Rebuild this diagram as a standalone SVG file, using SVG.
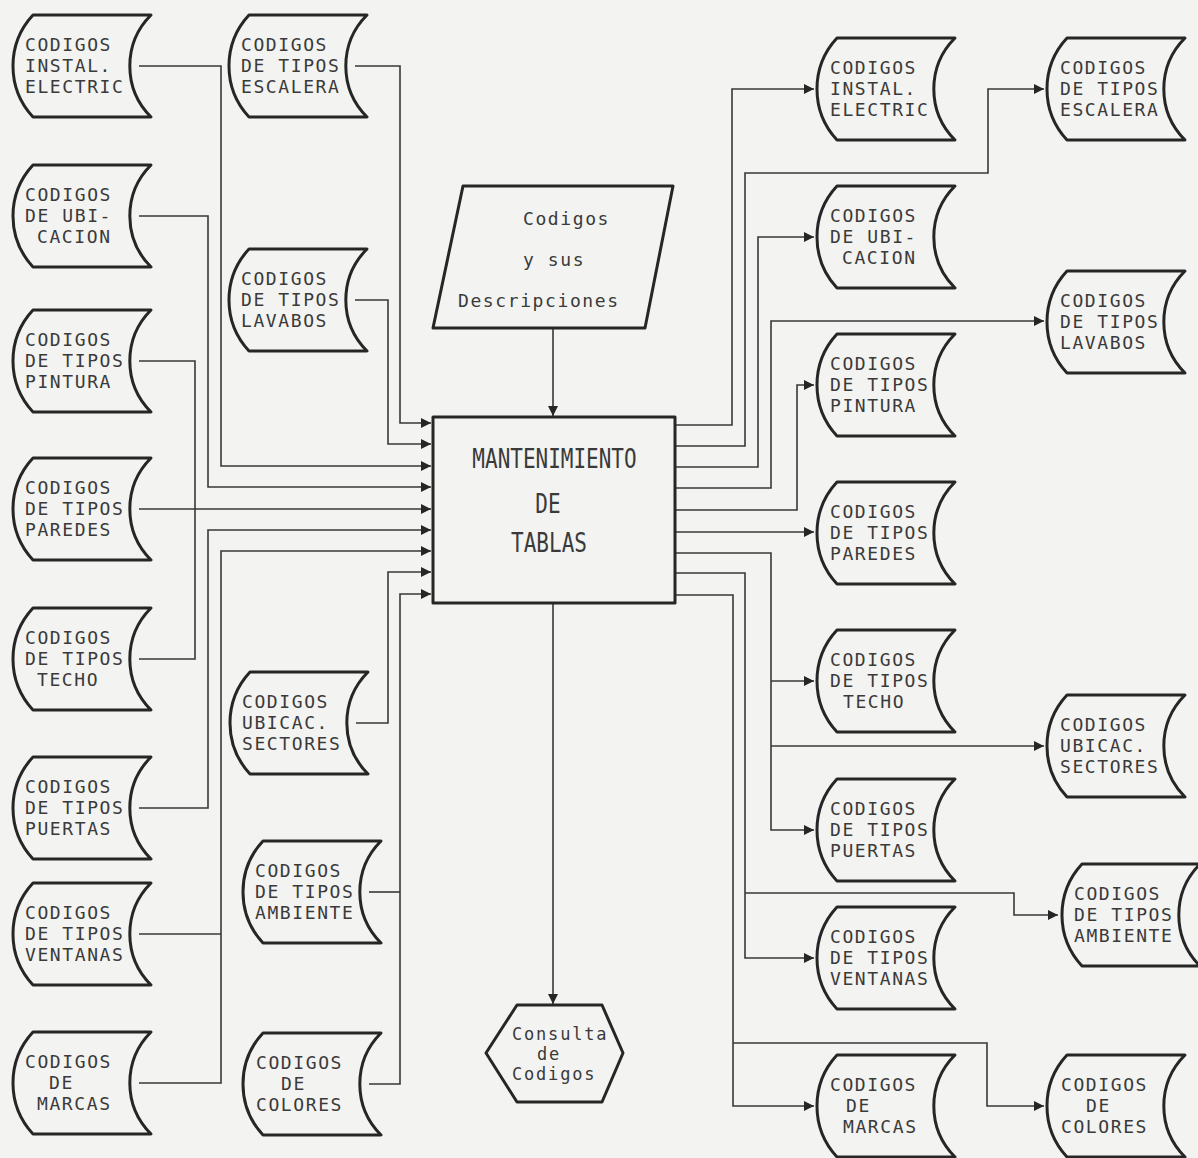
<svg xmlns="http://www.w3.org/2000/svg" width="1198" height="1158" viewBox="0 0 1198 1158">
<style>
.shape{fill:none;stroke:#262626;stroke-width:3;stroke-linejoin:round}
.t{font-family:"DejaVu Sans Mono","Liberation Mono",monospace;font-size:18px;letter-spacing:1.6px;fill:#3a3a3a}
.s{font-size:17px;letter-spacing:1.8px}
.b{font-size:21px;letter-spacing:0}
.c{fill:none;stroke:#383838;stroke-width:1.6}
.a{marker-end:url(#ah)}
</style>
<defs>
<path id="doc" d="M20,0 H138 A72 72 0 0 0 138,102 H20 A75 75 0 0 1 20,0 Z"/>
<marker id="ah" markerUnits="userSpaceOnUse" markerWidth="10" markerHeight="10" refX="10" refY="5" orient="auto"><path d="M0,0 L10,5 L0,10 Z" fill="#262626"/></marker>
</defs>
<rect width="1198" height="1158" fill="#f3f3f1"/>

<g id="connectors">
<polyline class="c a" points="355,66 400,66 400,423 431,423"/>
<polyline class="c a" points="355,300 388,300 388,444 431,444"/>
<polyline class="c a" points="139,66 221,66 221,466 431,466"/>
<polyline class="c a" points="139,216 208,216 208,487 431,487"/>
<polyline class="c a" points="139,509 431,509"/>
<polyline class="c" points="139,361 195,361 195,659 139,659"/>
<polyline class="c a" points="139,808 208,808 208,530 431,530"/>
<polyline class="c a" points="139,1083 221,1083 221,551 431,551"/>
<polyline class="c" points="139,934 221,934"/>
<polyline class="c a" points="356,723 388,723 388,572 431,572"/>
<polyline class="c a" points="369,1084 400,1084 400,594 431,594"/>
<polyline class="c" points="369,892 400,892"/>
<polyline class="c a" points="553,328 553,416"/>
<polyline class="c a" points="553,603 553,1004"/>
<polyline class="c a" points="675,425 732,425 732,89 814,89"/>
<polyline class="c a" points="675,446 745,446 745,173 988,173 988,89 1044,89"/>
<polyline class="c a" points="675,467 758,467 758,237 814,237"/>
<polyline class="c a" points="675,488 771,488 771,321 1044,321"/>
<polyline class="c a" points="675,510 797,510 797,385 814,385"/>
<polyline class="c a" points="675,532 814,532"/>
<polyline class="c a" points="675,553 771,553 771,830 814,830"/>
<polyline class="c a" points="771,681 814,681"/>
<polyline class="c a" points="771,746 1044,746"/>
<polyline class="c a" points="675,573 745,573 745,958 814,958"/>
<polyline class="c a" points="745,893 1014,893 1014,915 1058,915"/>
<polyline class="c a" points="675,595 733,595 733,1106 814,1106"/>
<polyline class="c a" points="733,1043 987,1043 987,1106 1044,1106"/>
</g>

<g id="entrada">
<polygon class="shape" points="463,186 673,186 645,328 433,328"/>
<text class="t" x="523" y="225">Codigos</text>
<text class="t" x="523" y="266">y sus</text>
<text class="t" x="458" y="307">Descripciones</text>
</g>
<g id="mantenimiento">
<rect class="shape" x="433" y="417" width="242" height="186"/>
<text class="t b" text-anchor="middle" transform="translate(554.5,468) scale(1,1.3)">MANTENIMIENTO</text>
<text class="t b" text-anchor="middle" transform="translate(548,513) scale(1,1.3)">DE</text>
<text class="t b" text-anchor="middle" transform="translate(549,552) scale(1,1.3)">TABLAS</text>
</g>
<g id="consulta">
<polygon class="shape" points="517,1005 602,1005 623,1053 602,1102 517,1102 486,1053"/>
<text class="t s" x="512" y="1040">Consulta</text>
<text class="t s" x="537" y="1060">de</text>
<text class="t s" x="512" y="1080">Codigos</text>
</g>

<g id="l1"><use href="#doc" class="shape" x="13" y="15"/>
<text class="t" x="25" y="51">CODIGOS</text><text class="t" x="25" y="72">INSTAL.</text><text class="t" x="25" y="93">ELECTRIC</text></g>
<g id="l2"><use href="#doc" class="shape" x="13" y="165"/>
<text class="t" x="25" y="201">CODIGOS</text><text class="t" x="25" y="222">DE UBI-</text><text class="t" x="37" y="243">CACION</text></g>
<g id="l3"><use href="#doc" class="shape" x="13" y="310"/>
<text class="t" x="25" y="346">CODIGOS</text><text class="t" x="25" y="367">DE TIPOS</text><text class="t" x="25" y="388">PINTURA</text></g>
<g id="l4"><use href="#doc" class="shape" x="13" y="458"/>
<text class="t" x="25" y="494">CODIGOS</text><text class="t" x="25" y="515">DE TIPOS</text><text class="t" x="25" y="536">PAREDES</text></g>
<g id="l5"><use href="#doc" class="shape" x="13" y="608"/>
<text class="t" x="25" y="644">CODIGOS</text><text class="t" x="25" y="665">DE TIPOS</text><text class="t" x="37" y="686">TECHO</text></g>
<g id="l6"><use href="#doc" class="shape" x="13" y="757"/>
<text class="t" x="25" y="793">CODIGOS</text><text class="t" x="25" y="814">DE TIPOS</text><text class="t" x="25" y="835">PUERTAS</text></g>
<g id="l7"><use href="#doc" class="shape" x="13" y="883"/>
<text class="t" x="25" y="919">CODIGOS</text><text class="t" x="25" y="940">DE TIPOS</text><text class="t" x="25" y="961">VENTANAS</text></g>
<g id="l8"><use href="#doc" class="shape" x="13" y="1032"/>
<text class="t" x="25" y="1068">CODIGOS</text><text class="t" x="49" y="1089">DE</text><text class="t" x="37" y="1110">MARCAS</text></g>

<g id="c1"><use href="#doc" class="shape" x="229" y="15"/>
<text class="t" x="241" y="51">CODIGOS</text><text class="t" x="241" y="72">DE TIPOS</text><text class="t" x="241" y="93">ESCALERA</text></g>
<g id="c2"><use href="#doc" class="shape" x="229" y="249"/>
<text class="t" x="241" y="285">CODIGOS</text><text class="t" x="241" y="306">DE TIPOS</text><text class="t" x="241" y="327">LAVABOS</text></g>
<g id="c3"><use href="#doc" class="shape" x="230" y="672"/>
<text class="t" x="242" y="708">CODIGOS</text><text class="t" x="242" y="729">UBICAC.</text><text class="t" x="242" y="750">SECTORES</text></g>
<g id="c4"><use href="#doc" class="shape" x="243" y="841"/>
<text class="t" x="255" y="877">CODIGOS</text><text class="t" x="255" y="898">DE TIPOS</text><text class="t" x="255" y="919">AMBIENTE</text></g>
<g id="c5"><use href="#doc" class="shape" x="243" y="1033"/>
<text class="t" x="256" y="1069">CODIGOS</text><text class="t" x="281" y="1090">DE</text><text class="t" x="256" y="1111">COLORES</text></g>

<g id="r1"><use href="#doc" class="shape" x="817" y="38"/>
<text class="t" x="830" y="74">CODIGOS</text><text class="t" x="830" y="95">INSTAL.</text><text class="t" x="830" y="116">ELECTRIC</text></g>
<g id="r2"><use href="#doc" class="shape" x="817" y="186"/>
<text class="t" x="830" y="222">CODIGOS</text><text class="t" x="830" y="243">DE UBI-</text><text class="t" x="842" y="264">CACION</text></g>
<g id="r3"><use href="#doc" class="shape" x="817" y="334"/>
<text class="t" x="830" y="370">CODIGOS</text><text class="t" x="830" y="391">DE TIPOS</text><text class="t" x="830" y="412">PINTURA</text></g>
<g id="r4"><use href="#doc" class="shape" x="817" y="482"/>
<text class="t" x="830" y="518">CODIGOS</text><text class="t" x="830" y="539">DE TIPOS</text><text class="t" x="830" y="560">PAREDES</text></g>
<g id="r5"><use href="#doc" class="shape" x="817" y="630"/>
<text class="t" x="830" y="666">CODIGOS</text><text class="t" x="830" y="687">DE TIPOS</text><text class="t" x="843" y="708">TECHO</text></g>
<g id="r6"><use href="#doc" class="shape" x="817" y="779"/>
<text class="t" x="830" y="815">CODIGOS</text><text class="t" x="830" y="836">DE TIPOS</text><text class="t" x="830" y="857">PUERTAS</text></g>
<g id="r7"><use href="#doc" class="shape" x="817" y="907"/>
<text class="t" x="830" y="943">CODIGOS</text><text class="t" x="830" y="964">DE TIPOS</text><text class="t" x="830" y="985">VENTANAS</text></g>
<g id="r8"><use href="#doc" class="shape" x="817" y="1055"/>
<text class="t" x="830" y="1091">CODIGOS</text><text class="t" x="846" y="1112">DE</text><text class="t" x="843" y="1133">MARCAS</text></g>

<g id="f1"><use href="#doc" class="shape" x="1047" y="38"/>
<text class="t" x="1060" y="74">CODIGOS</text><text class="t" x="1060" y="95">DE TIPOS</text><text class="t" x="1060" y="116">ESCALERA</text></g>
<g id="f2"><use href="#doc" class="shape" x="1047" y="271"/>
<text class="t" x="1060" y="307">CODIGOS</text><text class="t" x="1060" y="328">DE TIPOS</text><text class="t" x="1060" y="349">LAVABOS</text></g>
<g id="f3"><use href="#doc" class="shape" x="1047" y="695"/>
<text class="t" x="1060" y="731">CODIGOS</text><text class="t" x="1060" y="752">UBICAC.</text><text class="t" x="1060" y="773">SECTORES</text></g>
<g id="f4"><use href="#doc" class="shape" x="1062" y="864"/>
<text class="t" x="1074" y="900">CODIGOS</text><text class="t" x="1074" y="921">DE TIPOS</text><text class="t" x="1074" y="942">AMBIENTE</text></g>
<g id="f5"><use href="#doc" class="shape" x="1047" y="1055"/>
<text class="t" x="1061" y="1091">CODIGOS</text><text class="t" x="1086" y="1112">DE</text><text class="t" x="1061" y="1133">COLORES</text></g>
</svg>
